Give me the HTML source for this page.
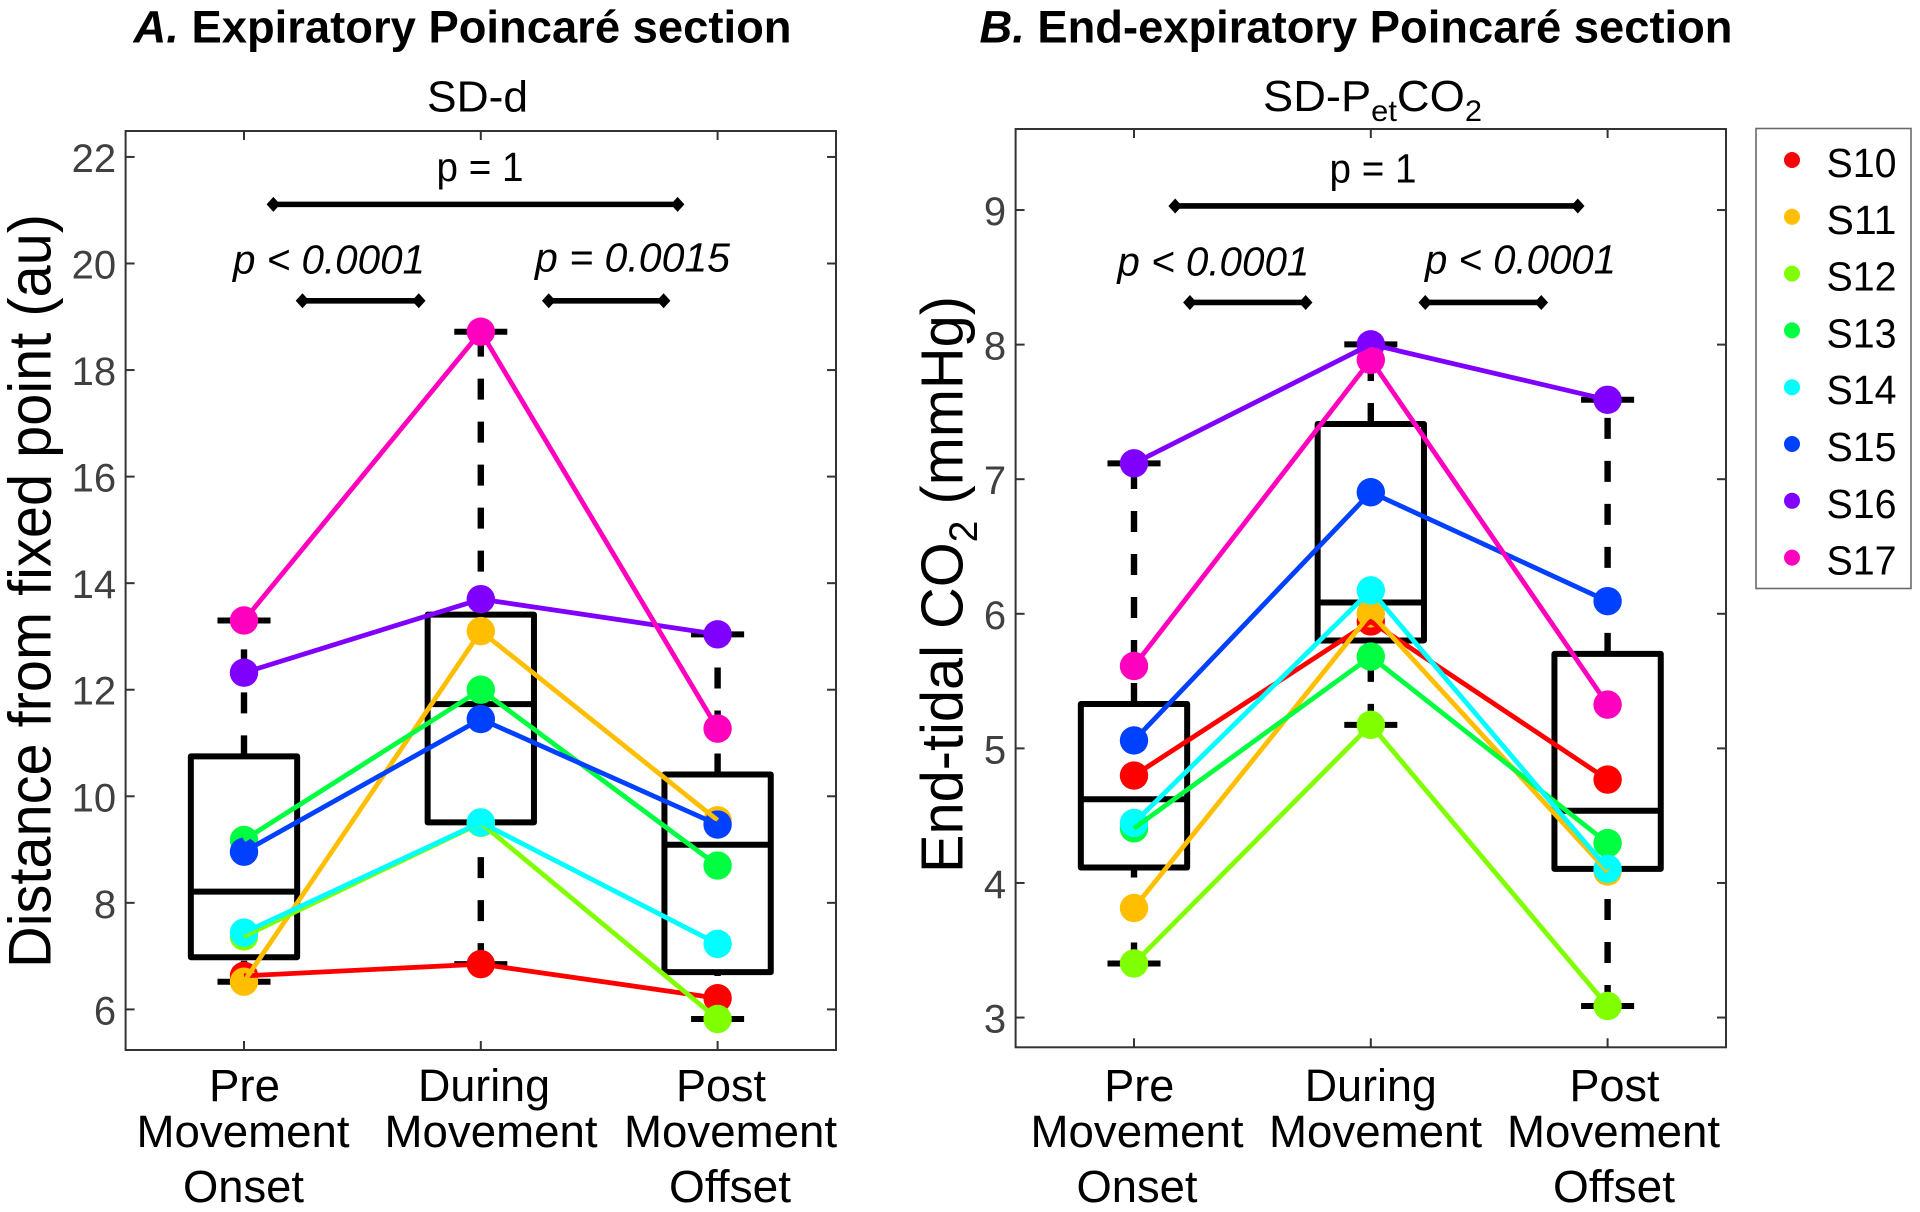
<!DOCTYPE html>
<html lang="en">
<head>
<meta charset="utf-8">
<title>Poincaré section comparison</title>
<style>
html,body{margin:0;padding:0;background:#fff;}
svg{display:block;position:absolute;left:0;top:0;}
text{font-family:"Liberation Sans",sans-serif;}
</style>
</head>
<body>
<svg id="fig" xmlns="http://www.w3.org/2000/svg" width="1920" height="1212" viewBox="0 0 1920 1212">
  <rect x="0" y="0" width="1920" height="1212" fill="#fff"/>

  <text x="133.5" y="42.6" font-size="45" font-weight="bold" textLength="658" lengthAdjust="spacingAndGlyphs"><tspan font-style="italic">A.</tspan> Expiratory Poincaré section</text>
  <text x="427" y="111.5" font-size="44" textLength="101" lengthAdjust="spacingAndGlyphs">SD-d</text>
  <text x="979.5" y="42.6" font-size="45" font-weight="bold" textLength="753" lengthAdjust="spacingAndGlyphs"><tspan font-style="italic">B.</tspan> End-expiratory Poincaré section</text>
  <text x="1263" y="111" font-size="44" textLength="219" lengthAdjust="spacingAndGlyphs">SD-P<tspan font-size="30" dy="10">et</tspan><tspan dy="-10">CO</tspan><tspan font-size="30" dy="10">2</tspan></text>

  <text transform="translate(50.5,968) rotate(-90)" font-size="60" textLength="754" lengthAdjust="spacingAndGlyphs">Distance from fixed point (au)</text>
  <text transform="translate(962.5,873) rotate(-90)" font-size="59" textLength="577" lengthAdjust="spacingAndGlyphs">End-tidal CO<tspan font-size="40" dy="14.5">2</tspan><tspan dy="-14.5"> (mmHg)</tspan></text>

  <g font-size="45.5" text-anchor="middle" fill="#000">
    <text x="244.5" y="1101.2" textLength="71" lengthAdjust="spacingAndGlyphs">Pre</text>
    <text x="243" y="1147.2" textLength="213" lengthAdjust="spacingAndGlyphs">Movement</text>
    <text x="243.5" y="1201.8" textLength="121" lengthAdjust="spacingAndGlyphs">Onset</text>
    <text x="484" y="1101.2" textLength="132" lengthAdjust="spacingAndGlyphs">During</text>
    <text x="491" y="1147.2" textLength="213" lengthAdjust="spacingAndGlyphs">Movement</text>
    <text x="721" y="1101.2" textLength="90" lengthAdjust="spacingAndGlyphs">Post</text>
    <text x="730.5" y="1147.2" textLength="213" lengthAdjust="spacingAndGlyphs">Movement</text>
    <text x="730" y="1201.8" textLength="122" lengthAdjust="spacingAndGlyphs">Offset</text>
  </g>
  <g font-size="45.5" text-anchor="middle" fill="#000">
    <text x="1139.3" y="1101.2" textLength="70" lengthAdjust="spacingAndGlyphs">Pre</text>
    <text x="1137" y="1147.2" textLength="213" lengthAdjust="spacingAndGlyphs">Movement</text>
    <text x="1137" y="1201.8" textLength="121" lengthAdjust="spacingAndGlyphs">Onset</text>
    <text x="1370.8" y="1101.2" textLength="132" lengthAdjust="spacingAndGlyphs">During</text>
    <text x="1375.5" y="1147.2" textLength="213" lengthAdjust="spacingAndGlyphs">Movement</text>
    <text x="1614.5" y="1101.2" textLength="90" lengthAdjust="spacingAndGlyphs">Post</text>
    <text x="1613.5" y="1147.2" textLength="213" lengthAdjust="spacingAndGlyphs">Movement</text>
    <text x="1614" y="1201.8" textLength="122" lengthAdjust="spacingAndGlyphs">Offset</text>
  </g>

  <g id="panelA"></g>
  <g id="panelB"></g>

  <g font-size="41" fill="#000">
    <text x="436.5" y="181" textLength="87" lengthAdjust="spacingAndGlyphs">p = 1</text>
    <text x="233" y="273.6" font-style="italic" textLength="192" lengthAdjust="spacingAndGlyphs">p &lt; 0.0001</text>
    <text x="535" y="271.6" font-style="italic" textLength="195" lengthAdjust="spacingAndGlyphs">p = 0.0015</text>
  </g>
  <g font-size="41" fill="#000">
    <text x="1329.5" y="182.5" textLength="87" lengthAdjust="spacingAndGlyphs">p = 1</text>
    <text x="1117.4" y="275.5" font-style="italic" textLength="192" lengthAdjust="spacingAndGlyphs">p &lt; 0.0001</text>
    <text x="1425" y="273.5" font-style="italic" textLength="191" lengthAdjust="spacingAndGlyphs">p &lt; 0.0001</text>
  </g>

  <g id="legend">
    <rect x="1756" y="128.5" width="155" height="460" fill="#fff" stroke="#6a6a6a" stroke-width="1.6"/>
  </g>
</svg>

<script>
/* ---------- shared data ---------- */
const subjects = ["S10", "S11", "S12", "S13", "S14", "S15", "S16", "S17"];
const phases = [1, 2, 3];

/* ---------- panel A: SD-d, values per subject at pre / during / post ---------- */
const panelA_S10 = [6.63, 6.85, 6.21];
const panelA_S11 = [6.52, 13.10, 9.55];
const panelA_S12 = [7.37, 9.50, 5.82];
const panelA_S13 = [9.18, 12.00, 8.70];
const panelA_S14 = [7.44, 9.51, 7.23];
const panelA_S15 = [8.96, 11.45, 9.47];
const panelA_S16 = [12.32, 13.70, 13.04];
const panelA_S17 = [13.30, 18.72, 11.27];

const panelA_boxMin = [6.52, 6.85, 5.82];
const panelA_boxQ1 = [6.98, 9.51, 6.70];
const panelA_boxMedian = [8.21, 11.73, 9.09];
const panelA_boxQ3 = [10.75, 13.41, 10.41];
const panelA_boxMax = [13.30, 18.72, 13.04];

const panelA_yTicks = [6, 8, 10, 12, 14, 16, 18, 20, 22];
const panelA_bracketFrom = [1.124, 1.247, 2.287];
const panelA_bracketTo = [2.831, 1.738, 2.772];
const panelA_bracketLevel = [21.11, 19.30, 19.30];

/* ---------- panel B: SD-PetCO2, values per subject at pre / during / post ---------- */
const panelB_S10 = [4.798, 5.943, 4.768];
const panelB_S11 = [3.814, 6.003, 4.085];
const panelB_S12 = [3.402, 5.175, 3.086];
const panelB_S13 = [4.406, 5.682, 4.296];
const panelB_S14 = [4.446, 6.174, 4.105];
const panelB_S15 = [5.059, 6.903, 6.094];
const panelB_S16 = [7.118, 8.002, 7.59];
const panelB_S17 = [5.612, 7.887, 5.325];

const panelB_boxMin = [3.402, 5.175, 3.086];
const panelB_boxQ1 = [4.115, 5.802, 4.105];
const panelB_boxMedian = [4.622, 6.084, 4.537];
const panelB_boxQ3 = [5.33, 7.41, 5.702];
const panelB_boxMax = [7.118, 8.002, 7.59];

const panelB_yTicks = [3, 4, 5, 6, 7, 8, 9];
const panelB_bracketFrom = [1.174, 1.236, 2.23];
const panelB_bracketTo = [2.874, 1.725, 2.72];
const panelB_bracketLevel = [9.03, 8.313, 8.313];

/* ---------- drawing ---------- */
const palette = ["#ff0000", "#ffbf00", "#80ff00", "#00ff40", "#00ffff", "#0040ff", "#8000ff", "#ff00bf"];
const SVGNS = "http://www.w3.org/2000/svg";

function mk(parent, tag, attrs) {
  const el = document.createElementNS(SVGNS, tag);
  for (const k in attrs) el.setAttribute(k, attrs[k]);
  parent.appendChild(el);
  return el;
}

function drawPanel(root, frame, xLim, yLim, yTicks, series, stats, brackets) {
  const xAt = d => frame.left + (d - xLim[0]) / (xLim[1] - xLim[0]) * (frame.right - frame.left);
  const yAt = v => frame.bottom - (v - yLim[0]) / (yLim[1] - yLim[0]) * (frame.bottom - frame.top);
  const axisInk = "#333";

  /* frame */
  const frameRect = mk(root, "rect", {x: frame.left, y: frame.top, width: frame.right - frame.left, height: frame.bottom - frame.top, fill: "#fff", stroke: axisInk, "stroke-width": 2});
  
  

  /* y ticks */
  yTicks.forEach(t => {
    const y = yAt(t);
    const left = mk(root, "line", {x1: frame.left, x2: frame.left + 9, y1: y, y2: y, stroke: axisInk, "stroke-width": 2});
    
    
    const right = mk(root, "line", {x1: frame.right - 9, x2: frame.right, y1: y, y2: y, stroke: axisInk, "stroke-width": 2});
    
    
    const label = mk(root, "text", {x: frame.left - 9.5, y: y + 15, "font-size": 40, "text-anchor": "end", fill: "#404040"});
    
    
    label.textContent = t;
  });

  /* x ticks */
  phases.forEach(p => {
    const x = xAt(p);
    const bottom = mk(root, "line", {x1: x, x2: x, y1: frame.bottom - 9, y2: frame.bottom, stroke: axisInk, "stroke-width": 2});
    
    
    const top = mk(root, "line", {x1: x, x2: x, y1: frame.top, y2: frame.top + 9, stroke: axisInk, "stroke-width": 2});
    
    
  });

  /* box plots */
  const boxW = 0.2245;
  const capW = 0.112;
  const boxInk = 6;
  const whiskerInk = 6.4;
  phases.forEach((p, i) => {
    const wUp = mk(root, "line", {x1: xAt(p), x2: xAt(p), y1: yAt(stats.q3[i]), y2: yAt(stats.max[i]), stroke: "#000", "stroke-width": whiskerInk, "stroke-dasharray": "21 22"});
    
    
    const wDown = mk(root, "line", {x1: xAt(p), x2: xAt(p), y1: yAt(stats.min[i]), y2: yAt(stats.q1[i]), stroke: "#000", "stroke-width": whiskerInk, "stroke-dasharray": "21 22"});
    
    
    const capUp = mk(root, "line", {x1: xAt(p - capW), x2: xAt(p + capW), y1: yAt(stats.max[i]), y2: yAt(stats.max[i]), stroke: "#000", "stroke-width": boxInk});
    
    
    const capDown = mk(root, "line", {x1: xAt(p - capW), x2: xAt(p + capW), y1: yAt(stats.min[i]), y2: yAt(stats.min[i]), stroke: "#000", "stroke-width": boxInk});
    
    
    const box = mk(root, "rect", {x: xAt(p - boxW), y: yAt(stats.q3[i]), width: xAt(p + boxW) - xAt(p - boxW), height: yAt(stats.q1[i]) - yAt(stats.q3[i]), fill: "none", stroke: "#000", "stroke-width": boxInk, "stroke-linejoin": "round"});
    
    
    const med = mk(root, "line", {x1: xAt(p - boxW), x2: xAt(p + boxW), y1: yAt(stats.median[i]), y2: yAt(stats.median[i]), stroke: "#000", "stroke-width": boxInk});
    
    
  });

  /* subject markers first, then connecting lines on top */
  series.forEach((vals, s) => {
    vals.forEach((v, i) => {
      const dot = mk(root, "circle", {cx: xAt(phases[i]), cy: yAt(v), r: 14.2, fill: palette[s]});
      
      
    });
  });
  series.forEach((vals, s) => {
    const pts = vals.map((v, i) => xAt(phases[i]) + "," + yAt(v)).join(" ");
    const line = mk(root, "polyline", {points: pts, fill: "none", stroke: palette[s], "stroke-width": 4.8});
    
    
  });

  /* significance brackets */
  brackets.from.forEach((f, i) => {
    const y = yAt(brackets.level[i]);
    const x1 = xAt(f);
    const x2 = xAt(brackets.to[i]);
    const bar = mk(root, "line", {x1: x1, x2: x2, y1: y, y2: y, stroke: "#000", "stroke-width": 5.6});
    
    
    [x1, x2].forEach(x => {
      const diamond = mk(root, "polygon", {points: (x - 6.8) + "," + y + " " + x + "," + (y - 7.5) + " " + (x + 6.8) + "," + y + " " + x + "," + (y + 7.5), fill: "#000"});
      
      
    });
  });
}

drawPanel(
  document.getElementById("panelA"),
  {left: 125.6, right: 836, top: 131, bottom: 1050},
  [0.5, 3.5],
  [5.238, 22.487],
  panelA_yTicks,
  [panelA_S10, panelA_S11, panelA_S12, panelA_S13, panelA_S14, panelA_S15, panelA_S16, panelA_S17],
  {min: panelA_boxMin, q1: panelA_boxQ1, median: panelA_boxMedian, q3: panelA_boxQ3, max: panelA_boxMax},
  {from: panelA_bracketFrom, to: panelA_bracketTo, level: panelA_bracketLevel}
);

drawPanel(
  document.getElementById("panelB"),
  {left: 1015.6, right: 1726, top: 129, bottom: 1047.3},
  [0.5, 3.5],
  [2.779, 9.602],
  panelB_yTicks,
  [panelB_S10, panelB_S11, panelB_S12, panelB_S13, panelB_S14, panelB_S15, panelB_S16, panelB_S17],
  {min: panelB_boxMin, q1: panelB_boxQ1, median: panelB_boxMedian, q3: panelB_boxQ3, max: panelB_boxMax},
  {from: panelB_bracketFrom, to: panelB_bracketTo, level: panelB_bracketLevel}
);

/* legend */
const legendRoot = document.getElementById("legend");
subjects.forEach((name, i) => {
  const y = 160 + i * 56.8;
  const swatch = mk(legendRoot, "circle", {cx: 1792, cy: y, r: 8, fill: palette[i]});
  
  
  const label = mk(legendRoot, "text", {x: 1826.5, y: y + 17, "font-size": 41, fill: "#000", textLength: 70, lengthAdjust: "spacingAndGlyphs"});
  
  
  label.textContent = name;
});
</script>
</body>
</html>
